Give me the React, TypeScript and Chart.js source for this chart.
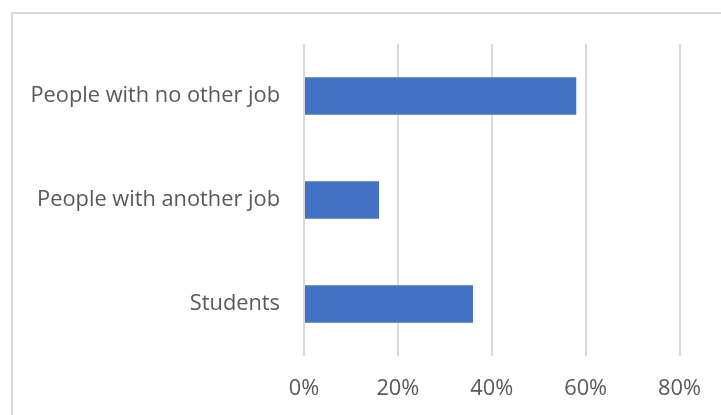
import React, { useEffect, useRef } from "react";
import { Chart, registerables } from "chart.js";

Chart.register(...registerables);

const categories = ["People with no other job", "People with another job", "Students"];
const values = [58, 16, 36];
const tickValues = [0, 20, 40, 60, 80];

const FONT = { family: "'Open Sans', 'Noto Sans', sans-serif", size: 21.8 };
const TEXT = "#595959";
const GRID = "#d9d9d9";

export default function App() {
  const ref = useRef<HTMLCanvasElement | null>(null);

  useEffect(() => {
    if (!ref.current) return;
    const chart = new Chart(ref.current, {
      type: "bar",
      data: {
        labels: categories,
        datasets: [
          {
            data: values,
            backgroundColor: "#4472C4",
            borderWidth: 0,
            barPercentage: 0.362,
            categoryPercentage: 1,
          },
        ],
      },
      options: {
        indexAxis: "y",
        responsive: false,
        animation: false,
        devicePixelRatio: 1,
        layout: { padding: { left: 0, right: 40, top: 44, bottom: 0 } },
        plugins: { legend: { display: false }, tooltip: { enabled: false } },
        scales: {
          x: {
            min: tickValues[0],
            max: tickValues[tickValues.length - 1],
            afterBuildTicks: (scale: any) => {
              scale.ticks = tickValues.map((v) => ({ value: v }));
            },
            ticks: {
              callback: (v: any) => v + "%",
              font: FONT,
              color: TEXT,
              padding: 20,
            },
            grid: { color: GRID, lineWidth: 2, drawTicks: false },
            border: { display: false },
            afterFit: (scale: any) => {
              scale.height = 59;
            },
          },
          y: {
            ticks: { font: FONT, color: TEXT, padding: 24 },
            grid: { display: false, drawTicks: false },
            border: { display: false },
            afterFit: (scale: any) => {
              scale.width = 304;
            },
          },
        },
      },
    });
    return () => chart.destroy();
  }, []);

  return (
    <div
      style={{
        position: "fixed",
        left: 0,
        top: 0,
        width: 721,
        height: 415,
        overflow: "hidden",
        background: "#fff",
      }}
    >
      <div
        style={{
          position: "absolute",
          left: 11,
          top: 12,
          width: 800,
          height: 600,
          borderLeft: "2px solid " + GRID,
          borderTop: "2px solid " + GRID,
        }}
      />
      <canvas
        ref={ref}
        width={721}
        height={415}
        style={{ position: "absolute", left: 0, top: 0, width: 721, height: 415 }}
      />
    </div>
  );
}
